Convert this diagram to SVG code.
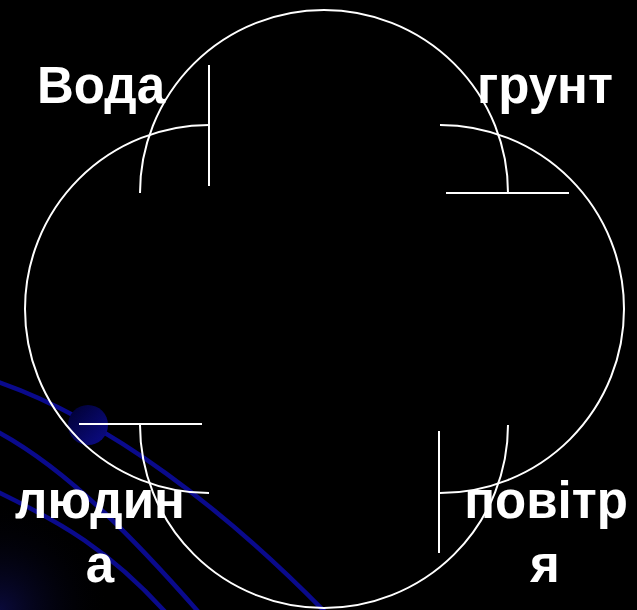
<svg xmlns="http://www.w3.org/2000/svg" width="637" height="610" viewBox="0 0 637 610">
  <defs>
    <style>
      .arc { fill: none; stroke: #ffffff; stroke-width: 2; }
      .tick { stroke: #ffffff; stroke-width: 2; }
      .swirl { fill: none; stroke: #0a0a8c; stroke-width: 4.5; stroke-linecap: round; }
      .label { font-family: "Liberation Sans", Arial, sans-serif; font-weight: bold; font-size: 51px; fill: #ffffff; }
    </style>
    <radialGradient id="glow" cx="0" cy="610" r="110" gradientUnits="userSpaceOnUse">
      <stop offset="0" stop-color="#12126a" stop-opacity="0.55"/>
      <stop offset="1" stop-color="#000000" stop-opacity="0"/>
    </radialGradient>
    <linearGradient id="ball" x1="0" y1="0" x2="1" y2="1">
      <stop offset="0" stop-color="#00002e"/>
      <stop offset="1" stop-color="#0c0c8a"/>
    </linearGradient>
  </defs>

  <rect x="0" y="0" width="637" height="610" fill="#000000"/>

  <g id="background">
    <rect x="0" y="480" width="140" height="130" fill="url(#glow)"/>
    <path class="swirl" d="M -2,382 C 110,421 225,510 325,612"/>
    <path class="swirl" d="M -2,432 C 70,471 140,545 202,616"/>
    <path class="swirl" d="M -2,492 C 60,522 110,550 168,615"/>
    <circle cx="88" cy="425" r="20" fill="url(#ball)"/>
  </g>

  <g id="rings">
    <path class="arc" d="M 140,193 A 184,183 0 0 1 508,193"/>
    <path class="arc" d="M 140,425 A 184,183 0 0 0 508,425"/>
    <path class="arc" d="M 209,125 A 184,184 0 0 0 209,493"/>
    <path class="arc" d="M 440,125 A 184,184 0 0 1 440,493"/>
  </g>

  <g id="connectors">
    <line class="tick" x1="209" y1="65" x2="209" y2="186"/>
    <line class="tick" x1="446" y1="193" x2="569" y2="193"/>
    <line class="tick" x1="79" y1="424" x2="202" y2="424"/>
    <line class="tick" x1="439" y1="431" x2="439" y2="553"/>
  </g>

  <g id="node-voda">
    <text class="label" x="37" y="103">Вода</text>
  </g>
  <g id="node-grunt">
    <text class="label" x="477" y="103">грунт</text>
  </g>
  <g id="node-lyudyna">
    <text class="label" x="100" y="518" text-anchor="middle">людин</text>
    <text class="label" x="100" y="582" text-anchor="middle">а</text>
  </g>
  <g id="node-povitrya">
    <text class="label" x="546" y="518" text-anchor="middle">повітр</text>
    <text class="label" x="545" y="582" text-anchor="middle">я</text>
  </g>
</svg>
